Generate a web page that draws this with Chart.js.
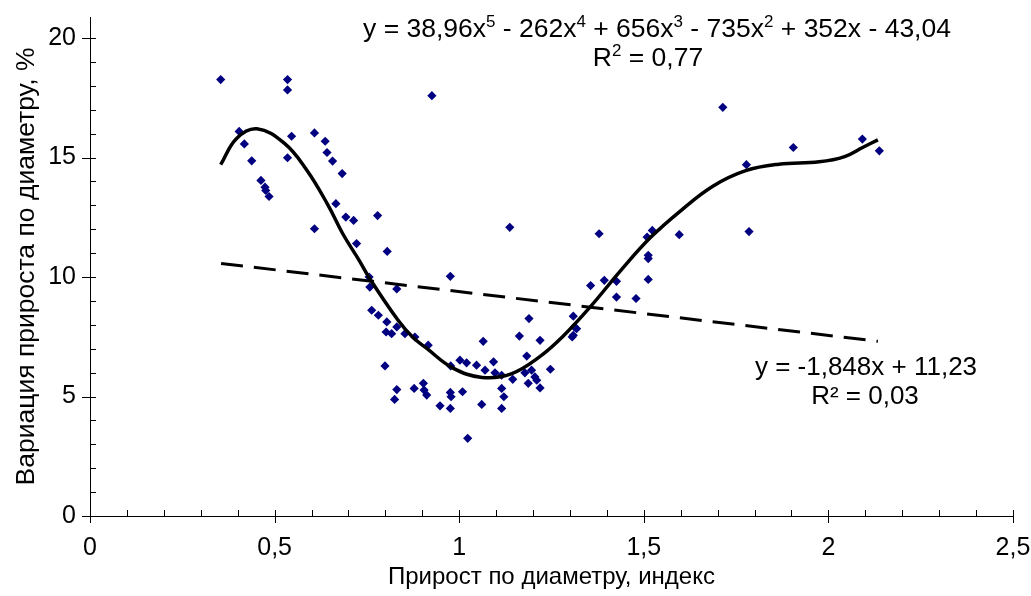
<!DOCTYPE html>
<html>
<head>
<meta charset="utf-8">
<script src="https://cdn.jsdelivr.net/npm/chart.js"></script>
<style>
  html, body { margin: 0; padding: 0; background: #fff; }
</style>
</head>
<body>
<canvas id="chart" width="1031" height="596"></canvas>
<script>
// scatter points: прирост по диаметру (x) / вариация прироста (y)
let pointsX = [0.354, 0.535, 0.535, 0.404, 0.418, 0.438, 0.463, 0.474, 0.476, 0.485,
    0.546, 0.535, 0.608, 0.637, 0.642, 0.657, 0.683, 0.608, 0.666, 0.693,
    0.714, 0.779, 0.722, 0.805, 0.926, 1.137, 0.976, 0.756, 0.758, 0.831,
    0.763, 0.781, 0.804, 0.802, 0.817, 0.831, 0.853, 0.880, 0.916, 0.799,
    0.831, 0.825, 0.878, 0.903, 0.905, 0.912, 0.948, 0.976, 0.978, 0.976,
    1.009, 0.977, 1.002, 1.020, 1.047, 1.070, 1.093, 1.065, 1.023, 1.061,
    1.097, 1.115, 1.115, 1.121, 1.115, 1.145, 1.163, 1.189, 1.219, 1.183,
    1.178, 1.196, 1.205, 1.210, 1.187, 1.219, 1.247, 1.309, 1.306, 1.312,
    1.318, 1.309, 1.356, 1.393, 1.426, 1.426, 1.479, 1.379, 1.523, 1.509,
    1.596, 1.512, 1.512, 1.512, 1.714, 2.092, 2.138, 1.905, 1.778, 1.785];
let pointsY = [18.26, 18.26, 17.83, 16.09, 15.57, 14.86, 14.04, 13.76, 13.62, 13.37,
    15.89, 14.99, 16.03, 15.68, 15.21, 14.85, 14.33, 12.02, 13.07, 12.51,
    12.37, 12.57, 11.40, 11.07, 17.59, 12.08, 10.03, 10.00, 9.58, 9.50,
    8.61, 8.40, 8.12, 7.70, 7.63, 7.91, 7.63, 7.49, 7.15, 6.28,
    5.29, 4.88, 5.34, 5.55, 5.27, 5.06, 4.61, 5.17, 4.99, 4.50,
    5.20, 6.28, 6.52, 6.41, 6.31, 6.10, 6.45, 7.31, 3.25, 4.67,
    5.99, 5.89, 5.34, 4.99, 4.50, 5.72, 7.53, 8.26, 7.35, 6.69,
    5.99, 6.10, 5.82, 5.68, 5.55, 5.36, 6.14, 7.56, 7.49, 7.91,
    7.84, 8.36, 9.64, 9.86, 9.82, 9.16, 9.10, 11.81, 11.95, 11.67,
    11.77, 10.91, 10.77, 9.90, 17.10, 15.77, 15.28, 15.42, 14.70, 11.90];

// polynomial trend
let polyX = [0.354, 0.397, 0.452, 0.526, 0.586, 0.645, 0.685, 0.729, 0.759, 0.834, 0.873, 0.913, 0.982, 1.062,
    1.141, 1.221, 1.280, 1.355, 1.439, 1.518, 1.598, 1.687, 1.776, 1.866, 1.975, 2.044, 2.094, 2.134];
let polyY = [14.7, 15.8, 16.2, 15.6, 14.5, 13.0, 11.8, 10.7, 9.9, 8.2, 7.5, 7.0, 6.2, 5.8,
    5.95, 6.7, 7.5, 8.75, 10.3, 11.65, 12.75, 13.8, 14.45, 14.72, 14.82, 15.04, 15.43, 15.74];

// linear trend ends
let linX = [0.355, 2.134];
let linY = [10.57, 7.31];

let xTicks = [0, 0.5, 1, 1.5, 2, 2.5];
let yTicks = [0, 5, 10, 15, 20];

let polyEq = [['y = 38,96x'], ['5', 1], [' - 262x'], ['4', 1], [' + 656x'], ['3', 1],
    [' - 735x'], ['2', 1], [' + 352x - 43,04']];
let polyR2 = [['R'], ['2', 1], [' = 0,77']];
let linEq = [['y = -1,848x + 11,23']];
let linR2 = [['R² = 0,03']];

const FONT = 'Liberation Sans, Arial, sans-serif';

function toXY(xs, ys) {
    return xs.map((v, i) => ({ x: v, y: ys[i] }));
}

function drawRich(ctx, parts, cx, base, size) {
    let w = 0;
    parts.forEach(p => {
        ctx.font = (p[1] ? size * 0.64 : size) + 'px ' + FONT;
        w += ctx.measureText(p[0]).width;
    });
    let x = cx - w / 2;
    parts.forEach(p => {
        ctx.font = (p[1] ? size * 0.64 : size) + 'px ' + FONT;
        ctx.fillText(p[0], x, p[1] ? base - size * 0.36 : base);
        x += ctx.measureText(p[0]).width;
    });
}

const notes = {
    id: 'notes',
    afterDraw(chart) {
        const ctx = chart.ctx;
        ctx.save();
        ctx.fillStyle = '#000';
        ctx.textAlign = 'left';
        ctx.textBaseline = 'alphabetic';
        drawRich(ctx, polyEq, 657, 37, 26.5);
        drawRich(ctx, polyR2, 648, 66, 26.5);
        drawRich(ctx, linEq, 866, 375, 26);
        drawRich(ctx, linR2, 865, 404, 26);
        ctx.restore();
    }
};

// excel style tick marks: major cross the axis, minor inside
const axisTicks = {
    id: 'axisTicks',
    afterDatasetsDraw(chart) {
        const { ctx, chartArea: a } = chart;
        const x = chart.scales.x, y = chart.scales.y;
        ctx.save();
        ctx.strokeStyle = '#000';
        ctx.lineWidth = 1;
        ctx.beginPath();
        for (let i = 0; i <= 25; i++) {
            const px = Math.round(x.getPixelForValue(i / 10)) + 0.5;
            ctx.moveTo(px, a.bottom - 6);
            ctx.lineTo(px, i % 5 === 0 ? a.bottom + 7 : a.bottom);
        }
        for (let i = 0; i <= 20; i++) {
            const py = Math.round(y.getPixelForValue(i)) + 0.5;
            ctx.moveTo(i % 5 === 0 ? a.left - 8 : a.left, py);
            ctx.lineTo(a.left + 6, py);
        }
        ctx.stroke();
        ctx.restore();
    }
};

let chart = new Chart(document.getElementById('chart'), {
    type: 'scatter',
    data: {
        datasets: [{
                label: 'points',
                data: toXY(pointsX, pointsY),
                pointStyle: 'rectRot',
                pointRadius: 4.6,
                backgroundColor: '#000080',
                borderColor: '#000080',
                borderWidth: 0,
                order: 3
            },
            {
                type: 'line',
                label: 'poly',
                data: toXY(polyX, polyY),
                borderColor: '#000',
                borderWidth: 3.5,
                pointRadius: 0,
                tension: 0.4,
                fill: false,
                order: 1
            },
            {
                type: 'line',
                label: 'linear',
                data: toXY(linX, linY),
                borderColor: '#000',
                borderWidth: 3,
                borderDash: [22, 11],
                pointRadius: 0,
                fill: false,
                order: 2
            }
        ]
    },
    options: {
        responsive: false,
        animation: false,
        devicePixelRatio: 1,
        layout: { padding: { top: 17, right: 18, left: 0, bottom: 0 } },
        plugins: { legend: { display: false }, tooltip: { enabled: false } },
        scales: {
            x: {
                type: 'linear',
                min: 0,
                max: 2.5,
                afterBuildTicks: s => { s.ticks = xTicks.map(v => ({ value: v })); },
                afterFit: s => { s.height = 80; s.paddingLeft = 0; s.paddingRight = 0; },
                grid: { display: false, drawTicks: false },
                border: { color: '#000', width: 1 },
                ticks: {
                    color: '#000',
                    font: { family: FONT, size: 25 },
                    padding: 17,
                    maxRotation: 0,
                    autoSkip: false,
                    callback: v => String(v).replace('.', ',')
                },
                title: {
                    display: true,
                    text: 'Прирост по диаметру, индекс',
                    color: '#000',
                    font: { family: FONT, size: 24 },
                    padding: { top: 0, bottom: 4 }
                }
            },
            y: {
                type: 'linear',
                min: 0,
                max: 20.88,
                afterBuildTicks: s => { s.ticks = yTicks.map(v => ({ value: v })); },
                afterFit: s => { s.width = 90; s.paddingTop = 0; s.paddingBottom = 0; },
                grid: { display: false, drawTicks: false },
                border: { color: '#000', width: 1 },
                ticks: {
                    color: '#000',
                    font: { family: FONT, size: 25 },
                    padding: 14
                },
                title: {
                    display: true,
                    text: 'Вариация прироста по диаметру, %',
                    color: '#000',
                    font: { family: FONT, size: 26.5 },
                    padding: { top: 11, bottom: 0 }
                }
            }
        }
    },
    plugins: [axisTicks, notes]
});
</script>
</body>
</html>
